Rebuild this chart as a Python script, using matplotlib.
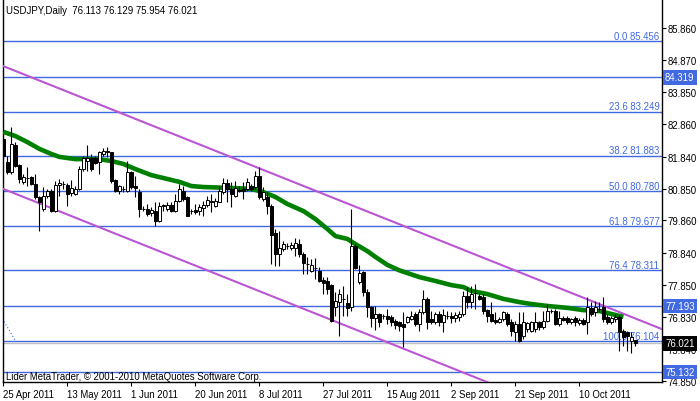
import matplotlib
matplotlib.use("Agg")
import matplotlib.pyplot as plt

plt.rcParams["font.family"] = ["Liberation Sans", "DejaVu Sans"]

# daily USDJPY bars (one entry per bar, Sundays included)
opens = [
    82.40, 81.67, 81.36, 82.21, 81.58, 81.06, 81.19, 81.20, 80.99, 80.58,
    80.21, 80.61, 80.78, 80.16, 80.96, 81.00, 80.96, 80.70, 80.68, 80.83,
    81.46, 81.72, 81.79, 81.82, 81.67, 81.93, 81.98, 81.98, 81.12, 80.78,
    80.83, 80.78, 81.36, 80.94, 80.73, 80.22, 80.21, 80.09, 80.16, 79.85,
    80.32, 80.21, 80.34, 80.16, 80.47, 80.79, 80.58, 80.16, 80.19, 80.16,
    80.25, 80.34, 80.47, 80.32, 80.44, 80.73, 81.03, 80.84, 80.63, 80.80,
    80.84, 80.84, 80.94, 80.89, 81.25, 80.53, 80.59, 80.31, 79.47, 78.81,
    78.97, 79.07, 79.00, 79.00, 79.12, 78.81, 78.51, 78.28, 78.38, 78.28,
    78.00, 77.97, 77.84, 77.16, 77.31, 77.40, 77.28, 77.16, 79.06, 77.94,
    78.25, 77.63, 77.16, 76.81, 76.94, 76.88, 76.88, 76.85, 76.72, 76.69,
    76.63, 76.69, 76.78, 76.94, 76.63, 77.00, 77.41, 76.78, 76.69, 76.94,
    76.69, 76.88, 76.88, 76.81, 76.85, 76.94, 77.50, 77.31, 77.60, 77.50,
    77.47, 77.06, 76.94, 76.75, 76.69, 76.78, 76.94, 76.69, 76.38, 76.63,
    76.25, 76.47, 76.41, 76.47, 76.69, 76.53, 76.72, 77.03, 77.03, 76.63,
    76.81, 76.81, 76.69, 76.81, 76.66, 76.75, 76.69, 77.13, 77.00, 77.10,
    77.16, 76.85, 76.69, 76.78, 76.85, 76.41, 76.38, 76.10, 76.113,
]
highs = [
    82.45, 81.88, 82.76, 82.29, 81.62, 81.30, 81.51, 81.25, 81.30, 80.61,
    80.89, 80.84, 80.84, 81.10, 81.15, 81.10, 81.04, 81.12, 80.92, 81.56,
    81.88, 82.21, 81.93, 81.88, 82.03, 82.13, 82.16, 82.00, 81.15, 80.96,
    80.94, 81.72, 81.41, 81.25, 80.84, 80.32, 80.37, 80.27, 80.42, 80.42,
    80.37, 80.42, 80.42, 80.68, 80.99, 80.94, 80.63, 80.21, 80.37, 80.37,
    80.47, 80.63, 80.68, 80.55, 80.94, 81.17, 81.15, 81.05, 81.10, 80.94,
    81.05, 81.17, 80.99, 81.41, 81.51, 80.89, 80.74, 80.37, 79.59, 79.53,
    79.21, 79.15, 79.18, 79.31, 79.28, 78.87, 78.72, 78.65, 78.68, 78.41,
    78.09, 78.09, 77.87, 77.63, 77.72, 77.81, 77.56, 80.21, 79.12, 78.47,
    78.28, 77.72, 77.19, 77.19, 76.97, 76.94, 77.10, 76.91, 76.78, 76.72,
    77.00, 76.88, 77.03, 77.00, 77.10, 77.69, 77.47, 77.03, 77.00, 77.03,
    77.10, 77.03, 77.00, 77.00, 77.03, 77.66, 77.78, 77.81, 77.87, 77.56,
    77.56, 77.10, 77.31, 77.00, 76.85, 77.03, 77.00, 76.78, 76.72, 77.00,
    77.00, 76.69, 76.72, 77.00, 76.72, 77.03, 77.25, 77.10, 77.10, 77.03,
    76.88, 76.88, 76.81, 76.88, 76.81, 76.81, 77.47, 77.31, 77.34, 77.31,
    77.47, 76.94, 76.88, 76.94, 76.91, 76.47, 76.41, 76.38, 76.129,
]
lows = [
    81.77, 81.30, 81.30, 81.51, 81.04, 80.99, 80.94, 80.96, 80.52, 79.54,
    80.16, 80.57, 80.11, 80.13, 80.61, 80.84, 80.30, 80.63, 80.65, 80.80,
    81.41, 81.41, 81.41, 81.62, 81.30, 81.88, 81.85, 81.04, 80.73, 80.68,
    80.73, 80.73, 80.84, 80.58, 79.95, 80.16, 79.99, 80.01, 79.69, 79.82,
    80.16, 80.16, 80.13, 80.13, 80.42, 80.47, 79.99, 80.06, 80.06, 80.03,
    80.01, 80.27, 80.13, 80.27, 80.42, 80.68, 80.42, 80.27, 80.58, 80.73,
    80.53, 80.79, 80.79, 80.84, 80.53, 80.47, 80.06, 78.50, 78.44, 78.44,
    78.90, 78.97, 78.93, 78.75, 78.72, 78.19, 78.19, 78.25, 78.03, 77.94,
    77.56, 77.56, 76.70, 76.88, 76.25, 76.88, 76.88, 77.03, 78.34, 77.87,
    77.50, 76.85, 76.53, 76.44, 76.53, 76.78, 76.63, 76.57, 76.47, 76.41,
    75.91, 76.66, 76.75, 76.57, 76.41, 76.94, 76.47, 76.63, 76.63, 76.57,
    76.38, 76.78, 76.66, 76.69, 76.72, 76.88, 77.13, 77.13, 77.10, 77.38,
    76.94, 76.69, 76.69, 76.63, 76.66, 76.72, 76.57, 76.25, 76.10, 76.07,
    76.16, 76.38, 76.38, 76.38, 76.44, 76.47, 76.69, 76.97, 76.60, 76.57,
    76.72, 76.63, 76.63, 76.57, 76.60, 76.60, 76.32, 76.88, 76.88, 77.00,
    76.69, 76.63, 76.63, 76.69, 75.79, 75.94, 75.79, 75.72, 75.954,
]
closes = [
    81.88, 81.36, 82.24, 81.57, 81.15, 81.20, 81.18, 80.99, 80.58, 80.42,
    80.61, 80.78, 80.16, 80.96, 81.02, 80.98, 80.68, 80.86, 80.83, 81.46,
    81.82, 81.79, 81.46, 81.65, 81.98, 82.03, 82.03, 81.10, 80.78, 80.92,
    80.84, 81.36, 80.89, 80.86, 80.21, 80.21, 80.06, 80.19, 79.85, 80.32,
    80.33, 80.34, 80.16, 80.47, 80.84, 80.53, 80.01, 80.15, 80.13, 80.27,
    80.34, 80.49, 80.42, 80.47, 80.79, 81.03, 80.84, 80.68, 80.86, 80.79,
    80.79, 81.07, 80.84, 81.25, 80.58, 80.73, 80.31, 79.40, 78.81, 79.00,
    79.12, 79.06, 79.09, 79.15, 78.81, 78.53, 78.50, 78.47, 78.37, 77.97,
    77.91, 77.72, 76.72, 77.34, 77.56, 77.41, 77.13, 79.06, 78.37, 78.22,
    77.63, 77.16, 76.81, 76.94, 76.69, 76.87, 76.78, 76.69, 76.60, 76.57,
    76.53, 76.85, 76.88, 76.63, 77.00, 77.41, 76.69, 76.69, 76.94, 76.69,
    76.91, 76.89, 76.81, 76.91, 76.94, 77.50, 77.31, 77.56, 77.59, 77.41,
    77.03, 76.88, 76.72, 76.69, 76.78, 77.00, 76.63, 76.41, 76.63, 76.10,
    76.69, 76.66, 76.69, 76.69, 76.53, 76.72, 77.03, 77.02, 76.63, 76.81,
    76.75, 76.69, 76.78, 76.69, 76.75, 76.63, 77.16, 76.94, 77.16, 77.09,
    76.78, 76.69, 76.81, 76.85, 76.38, 76.22, 76.25, 76.22, 76.021,
]

# green moving average, sampled along the curve
ma_idx = [0, 3, 6, 9, 12, 14, 18, 24, 27, 30, 33, 37, 40, 44, 47, 50, 57, 62,
          65, 68, 71, 75, 78, 81, 83, 86, 88, 91, 93, 96, 99, 104, 108, 112,
          115, 117, 121, 125, 129, 132, 136, 141, 145, 149, 152, 155]
ma_val = [82.62, 82.49, 82.30, 82.09, 81.93, 81.84, 81.77, 81.77, 81.71, 81.62,
          81.46, 81.27, 81.18, 81.06, 80.93, 80.90, 80.87, 80.84, 80.74, 80.59,
          80.37, 80.15, 79.90, 79.59, 79.37, 79.28, 79.12, 78.90, 78.72, 78.47,
          78.30, 78.09, 77.97, 77.84, 77.78, 77.66, 77.56, 77.41, 77.31, 77.25,
          77.19, 77.13, 77.06, 77.03, 76.94, 76.85]

# channel (two parallel trend lines)
chan_x = [0, 165]
chan_upper = [84.67, 76.45]
chan_lower = [80.84, 72.62]

fib_levels = [0.0, 23.6, 38.2, 50.0, 61.8, 76.4, 100.0]
fib_prices = [85.456, 83.249, 81.883, 80.780, 79.677, 78.311, 76.104]
fib_base_x = [-41, 3]
fib_base_y = [85.456, 76.104]

marked_levels = [84.319, 77.193, 75.132]
bid = 76.021

price_ticks = [85.860, 84.870, 83.850, 82.860, 81.840, 80.850, 79.860,
               78.840, 77.850, 76.830, 75.840, 74.850]
date_pos = [0, 16, 32, 48, 64, 80, 96, 112, 128, 144]
date_labels = ["25 Apr 2011", "13 May 2011", "1 Jun 2011", "20 Jun 2011",
               "8 Jul 2011", "27 Jul 2011", "15 Aug 2011", "2 Sep 2011",
               "21 Sep 2011", "10 Oct 2011"]

title = "USDJPY,Daily  76.113 76.129 75.954 76.021"
footer = "Lider MetaTrader, \u00a9 2001-2010 MetaQuotes Software Corp."

BLUE = "#4169E1"
FS = 6.9

fig = plt.figure(figsize=(7, 4.02), dpi=100)
ax = fig.add_axes([3 / 700, 19 / 402, 659 / 700, 383 / 402])
ax.set_xlim(-0.1, 164.65)
ax.set_ylim(74.818, 86.765)

# horizontal levels
for p in fib_prices + marked_levels:
    ax.axhline(p, color=BLUE, lw=1.0, zorder=2)
ax.axhline(bid, color="#c0c0c0", lw=1.0, zorder=2)
ax.plot(fib_base_x, fib_base_y, color=BLUE, lw=0.8, ls=(0, (1, 2)), zorder=2)

for lvl, p in zip(fib_levels, fib_prices):
    ax.annotate(f"{lvl:.1f} {p:.3f}", (164, p), xytext=(0, 1.6),
                textcoords="offset points", ha="right", va="baseline",
                color=BLUE, fontsize=FS, zorder=3)

ax.plot(chan_x, chan_upper, color="#BA55D3", lw=1.5, zorder=4)
ax.plot(chan_x, chan_lower, color="#BA55D3", lw=1.5, zorder=4)
ax.plot(ma_idx, ma_val, color="#008000", lw=3.3, solid_capstyle="butt",
        solid_joinstyle="round", zorder=5)

# candles
xs = list(range(len(closes)))
ax.vlines(xs, lows, highs, color="black", lw=0.8, zorder=6)
heights = [c - o for o, c in zip(opens, closes)]
colors = ["white" if c >= o else "black" for o, c in zip(opens, closes)]
ax.bar(xs, heights, bottom=opens, width=0.58, color=colors,
       edgecolor="black", lw=0.7, zorder=7)

# axes styling
for side in ["left", "right", "bottom"]:
    ax.spines[side].set_color("black")
    ax.spines[side].set_linewidth(1.0)
ax.spines["top"].set_visible(False)

ax.yaxis.tick_right()
ax.set_yticks(price_ticks)
ax.set_yticklabels([f"{p:.3f}" for p in price_ticks])
ax.tick_params(axis="y", direction="out", length=3, width=0.8, pad=1,
               labelsize=FS, colors="black")
ax.set_xticks(date_pos)
ax.set_xticklabels(date_labels, ha="left")
ax.tick_params(axis="x", direction="out", length=3, width=0.8, pad=2,
               labelsize=FS, colors="black")

ytrans = ax.get_yaxis_transform()
for p in marked_levels:
    ax.text(1.0046, p, f"{p:.3f}", transform=ytrans, ha="left", va="center",
            color="white", fontsize=FS, zorder=10,
            bbox=dict(facecolor=BLUE, edgecolor="none", pad=1.6))
ax.text(1.0046, bid, f"{bid:.3f}", transform=ytrans, ha="left", va="center",
        color="white", fontsize=FS, zorder=10,
        bbox=dict(facecolor="black", edgecolor="none", pad=1.6))

fig.text(6 / 700, 1 - 11 / 402, title, fontsize=FS, va="center", ha="left")
fig.text(6 / 700, 1 - 377 / 402, footer, fontsize=FS, va="center", ha="left")

fig.savefig("out.png", dpi=100)
